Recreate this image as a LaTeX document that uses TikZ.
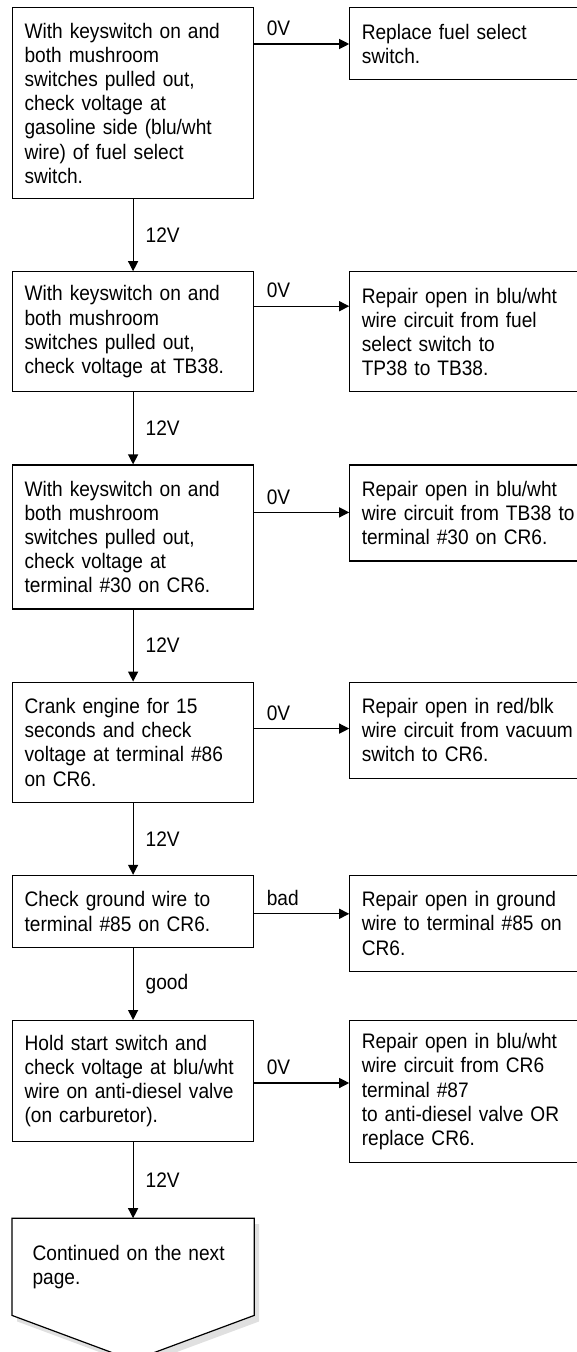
\documentclass[tikz,border=0pt]{standalone}
\usepackage{fontspec}
\setmainfont{Liberation Sans}[FakeStretch=0.91]
\usetikzlibrary{arrows.meta, positioning, backgrounds}
\tikzset{
  caja/.style={rectangle, draw=black, line width=1.2pt, fill=white,
    text width=217pt, inner xsep=12pt, inner ysep=6pt, minimum width=241pt,
    align=left, font=\fontsize{21pt}{24.2pt}\selectfont},
  flecha/.style={-{Triangle[length=10pt, width=10pt]}, line width=1.2pt},
  rotulo/.style={inner sep=0pt, font=\fontsize{21pt}{24.2pt}\selectfont},
  sombra/.style={fill=black!12, draw=none}
}

\begin{document}
\begin{tikzpicture}[node distance=72pt and 95pt]
  \useasboundingbox (0,0) rectangle (577pt,-1352pt);

  % --- Pruebas ---
  \node[caja, minimum height=191pt, anchor=north west] (b1) at (12pt,-7pt)
    {With keyswitch on and\\ both mushroom\\ switches pulled out,\\ check voltage at\\
     gasoline side (blu/wht\\ wire) of fuel select\\ switch.};
  \node[caja, minimum height=120pt, below=of b1] (b2)
    {With keyswitch on and\\ both mushroom\\ switches pulled out,\\ check voltage at TB38.};
  \node[caja, minimum height=144pt, below=of b2] (b3)
    {With keyswitch on and\\ both mushroom\\ switches pulled out,\\ check voltage at\\
     terminal \#30 on CR6.};
  \node[caja, minimum height=120pt, below=of b3] (b4)
    {Crank engine for 15\\ seconds and check\\ voltage at terminal \#86\\ on CR6.};
  \node[caja, minimum height=72pt, below=of b4] (b5)
    {Check ground wire to\\ terminal \#85 on CR6.};
  \node[caja, minimum height=121pt, below=of b5] (b6)
    {Hold start switch and\\ check voltage at blu/wht\\ wire on anti-diesel valve\\
     (on carburetor).};
  \node[caja, draw=none, fill=none, text width=201pt, inner xsep=20pt,
    minimum height=96pt, below=76pt of b6] (cont)
    {Continued on the next\\ page.};

  % --- Reparaciones ---
  \node[caja, minimum height=72pt, right=of b1.north east, anchor=north west] (r1)
    {Replace fuel select\\ switch.};
  \node[caja, minimum height=120pt, right=of b2.north east, anchor=north west] (r2)
    {Repair open in blu/wht\\ wire circuit from fuel\\ select switch to\\ TP38 to TB38.};
  \node[caja, minimum height=96pt, right=of b3.north east, anchor=north west] (r3)
    {Repair open in blu/wht\\ wire circuit from TB38 to\\ terminal \#30 on CR6.};
  \node[caja, minimum height=96pt, right=of b4.north east, anchor=north west] (r4)
    {Repair open in red/blk\\ wire circuit from vacuum\\ switch to CR6.};
  \node[caja, minimum height=96pt, right=of b5.north east, anchor=north west] (r5)
    {Repair open in ground\\ wire to terminal \#85 on\\ CR6.};
  \node[caja, minimum height=142pt, right=of b6.north east, anchor=north west] (r6)
    {Repair open in blu/wht\\ wire circuit from CR6\\ terminal \#87\\
     to anti-diesel valve OR\\ replace CR6.};

  % --- Conector de página ---
  \begin{scope}[on background layer]
    \fill[sombra, transform canvas={shift={(5pt,-6pt)}}] (cont.south west) -- (cont.north west)
      -- (cont.north east) -- (cont.south east) -- ([yshift=-45pt]cont.south) -- cycle;
    \draw[line width=1.2pt, fill=white] (cont.south west) -- (cont.north west)
      -- (cont.north east) -- (cont.south east) -- ([yshift=-45pt]cont.south) -- cycle;
  \end{scope}

  % --- Flechas ---
  \draw[flecha] (b1) -- node[rotulo, right=12pt]{12V} (b2);
  \draw[flecha] (b2) -- node[rotulo, right=12pt]{12V} (b3);
  \draw[flecha] (b3) -- node[rotulo, right=12pt]{12V} (b4);
  \draw[flecha] (b4) -- node[rotulo, right=12pt]{12V} (b5);
  \draw[flecha] (b5) -- node[rotulo, right=12pt]{good} (b6);
  \draw[flecha] (b6) -- node[rotulo, right=12pt]{12V} (cont);

  \coordinate (s1) at ([yshift=-37pt]b1.north east);
  \coordinate (s2) at ([yshift=-35pt]b2.north east);
  \coordinate (s3) at ([yshift=-48pt]b3.north east);
  \coordinate (s4) at ([yshift=-47pt]b4.north east);
  \coordinate (s5) at ([yshift=-39pt]b5.north east);
  \coordinate (s6) at ([yshift=-63pt]b6.north east);
  \draw[flecha] (s1) -- node[rotulo, pos=0, above right=7.5pt and 12pt]{0V} (s1 -| r1.west);
  \draw[flecha] (s2) -- node[rotulo, pos=0, above right=7.5pt and 12pt]{0V} (s2 -| r2.west);
  \draw[flecha] (s3) -- node[rotulo, pos=0, above right=7.5pt and 12pt]{0V} (s3 -| r3.west);
  \draw[flecha] (s4) -- node[rotulo, pos=0, above right=7.5pt and 12pt]{0V} (s4 -| r4.west);
  \draw[flecha] (s5) -- node[rotulo, pos=0, above right=7.5pt and 12pt]{bad} (s5 -| r5.west);
  \draw[flecha] (s6) -- node[rotulo, pos=0, above right=7.5pt and 12pt]{0V} (s6 -| r6.west);

\end{tikzpicture}
\end{document}
